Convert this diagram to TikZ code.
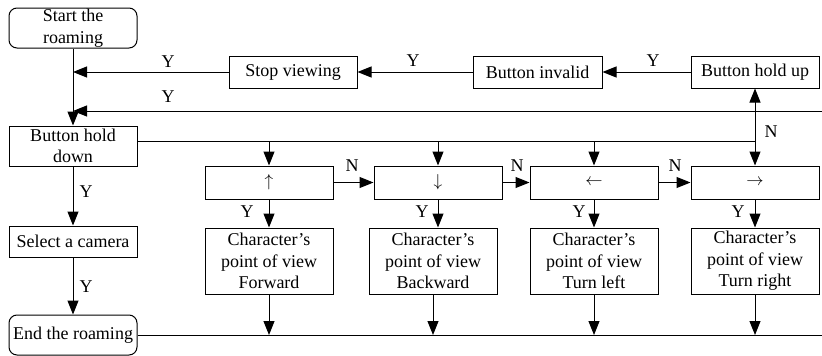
\documentclass[tikz,border=0pt]{standalone}
\usepackage{fontspec}
\setmainfont{Liberation Serif}
\usetikzlibrary{arrows.meta}
\begin{document}
\begin{tikzpicture}[x=1pt,y=-1pt,
  box/.style={draw,line width=1pt,minimum width=128pt,inner sep=0pt,align=center,
    font=\fontsize{18}{21.5}\selectfont},
  term/.style={box,rounded corners=8pt,minimum height=40pt},
  arr/.style={line width=1pt,-{Triangle[length=14pt,width=11pt]}},
  ln/.style={line width=1pt},
  lab/.style={font=\fontsize{18}{20}\selectfont,inner sep=0pt}]
\useasboundingbox (0,0) rectangle (822,356);

% left column
\node[term] (st) at (73,28) {Start the\\roaming};
\node[box,minimum height=40pt] (hd) at (73,146) {Button hold\\down};
\node[box,minimum height=31pt] (sc) at (73,241.5) {Select a camera};
\node[term] (en) at (73,335) {End the roaming};

% top row
\node[box,minimum height=32pt] (sv) at (293,72) {Stop viewing};
\node[box,minimum height=32pt,minimum width=129pt] (bi) at (537.5,72) {Button invalid};
\node[box,minimum height=32pt] (hu) at (755,72) {Button hold up};

% direction tests
\node[box,minimum height=33pt] (d1) at (269,182.5) {$\uparrow$};
\node[box,minimum height=33pt] (d2) at (438,182.5) {$\downarrow$};
\node[box,minimum height=33pt] (d3) at (594,182.5) {$\leftarrow$};
\node[box,minimum height=33pt] (d4) at (755,182.5) {$\rightarrow$};

% view actions
\node[box,minimum height=66pt] (a1) at (269,261) {Character’s\\point of view\\Forward};
\node[box,minimum height=66pt] (a2) at (433,261) {Character’s\\point of view\\Backward};
\node[box,minimum height=66pt] (a3) at (594,261) {Character’s\\point of view\\Turn left};
\node[box,minimum height=66pt] (a4) at (755,261) {Character’s\\point of view\\Turn right};

% bus points
\coordinate (busA) at (755,141);
\coordinate (busB) at (822,111);
\coordinate (busC) at (822,335);

% left column flow
\draw[arr] (st) -- (hd);
\draw[arr] (hd) -- (sc);
\draw[arr] (sc) -- (en);
\node[lab] at (86,192) {Y};
\node[lab] at (86,287) {Y};

% release path
\draw[arr] (hu) -- (bi);
\draw[arr] (bi) -- (sv);
\draw[arr] (sv.west) -- (sv.west -| st.south);
\draw[arr] (busB) -- (busB -| st.south);
\node[lab] at (653,61) {Y};
\node[lab] at (413,61) {Y};
\node[lab] at (168,62) {Y};
\node[lab] at (168,97) {Y};

% hold-down bus
\draw[ln] (hd.east |- busA) -- (busA);
\draw[arr] (busA) -- (hu.south);
\draw[arr] (busA) -- (d4.north);
\node[lab] at (771,132) {N};
\draw[arr] (busA -| d1.north) -- (d1.north);
\draw[arr] (busA -| d2.north) -- (d2.north);
\draw[arr] (busA -| d3.north) -- (d3.north);

% test chain
\draw[arr] (d1) -- (d2);
\draw[arr] (d2) -- (d3);
\draw[arr] (d3) -- (d4);
\node[lab] at (352,166) {N};
\node[lab] at (517,166) {N};
\node[lab] at (675,166) {N};

% tests to actions
\draw[arr] (d1.south) -- (d1.south |- a1.north);
\draw[arr] (d2.south) -- (d2.south |- a2.north);
\draw[arr] (d3.south) -- (d3.south |- a3.north);
\draw[arr] (d4.south) -- (d4.south |- a4.north);
\node[lab] at (247,212) {Y};
\node[lab] at (422,212) {Y};
\node[lab] at (579,212) {Y};
\node[lab] at (738,212) {Y};

% actions to end bus
\draw[ln] (en.east) -- (busC);
\draw[arr] (a1.south) -- (a1.south |- busC);
\draw[arr] (a2.south) -- (a2.south |- busC);
\draw[arr] (a3.south) -- (a3.south |- busC);
\draw[arr] (a4.south) -- (a4.south |- busC);
\end{tikzpicture}
\end{document}
